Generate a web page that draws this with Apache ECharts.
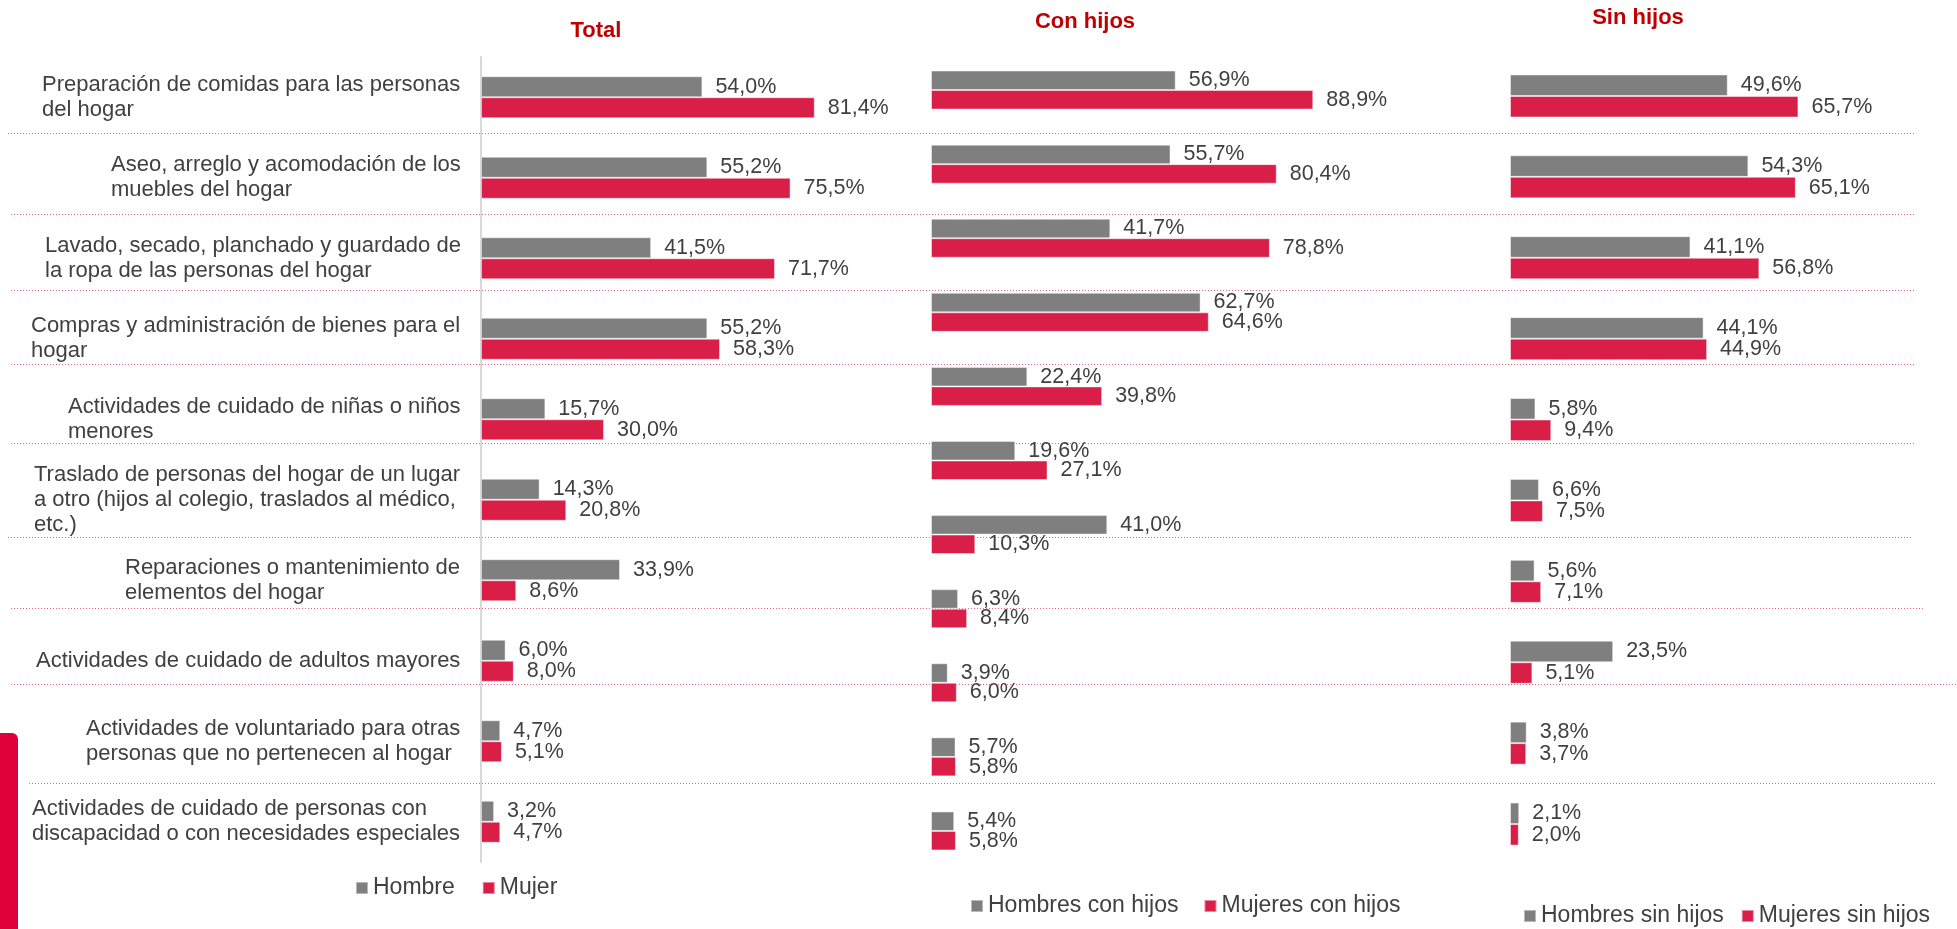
<!DOCTYPE html>
<html>
<head>
<meta charset="utf-8">
<script src="https://cdn.jsdelivr.net/npm/echarts@6/dist/echarts.min.js"></script>
<style>
  html, body { margin: 0; padding: 0; background: #ffffff; }
  #chart { width: 1957px; height: 929px; }
</style>
</head>
<body>
<div id="chart"></div>
<script>
// ---------- DATA ----------
const categories = [
  'Preparación de comidas para las personas\ndel hogar',
  'Aseo, arreglo y acomodación de los\nmuebles del hogar',
  'Lavado, secado, planchado y guardado de\nla ropa de las personas del hogar',
  'Compras y administración de bienes para el\nhogar',
  'Actividades de cuidado de niñas o niños\nmenores',
  'Traslado de personas del hogar de un lugar\na otro (hijos al colegio, traslados al médico,\netc.)',
  'Reparaciones o mantenimiento de\nelementos del hogar',
  'Actividades de cuidado de adultos mayores',
  'Actividades de voluntariado para otras\npersonas que no pertenecen al hogar',
  'Actividades de cuidado de personas con\ndiscapacidad o con necesidades especiales'
];
const totalHombre = [54.0, 55.2, 41.5, 55.2, 15.7, 14.3, 33.9, 6.0, 4.7, 3.2];
const totalMujer  = [81.4, 75.5, 71.7, 58.3, 30.0, 20.8, 8.6, 8.0, 5.1, 4.7];

const conHijosCategories = ['F1', 'F2', 'F3', 'F4', 'F5', 'F6', 'F7', 'F8', 'F9', 'F10', 'F11'];
const conHombre = [56.9, 55.7, 41.7, 62.7, 22.4, 19.6, 41.0, 6.3, 3.9, 5.7, 5.4];
const conMujer  = [88.9, 80.4, 78.8, 64.6, 39.8, 27.1, 10.3, 8.4, 6.0, 5.8, 5.8];

const sinHombre = [49.6, 54.3, 41.1, 44.1, 5.8, 6.6, 5.6, 23.5, 3.8, 2.1];
const sinMujer  = [65.7, 65.1, 56.8, 44.9, 9.4, 7.5, 7.1, 5.1, 3.7, 2.0];

const panelTitles = ['Total', 'Con hijos', 'Sin hijos'];
const legendNames = [
  ['Hombre', 'Mujer'],
  ['Hombres con hijos', 'Mujeres con hijos'],
  ['Hombres sin hijos', 'Mujeres sin hijos']
];

// ---------- STYLE ----------
const FONT = '"Liberation Sans", Arial, Helvetica, sans-serif';
const GREY = '#7f7f7f';
const RED = '#d91f48';
const TEXT = '#404040';
const TITLE = '#c00000';

// measure label lines to make left-aligned text blocks anchored at the right
const cv = document.createElement('canvas').getContext('2d');
cv.font = '22px ' + FONT;
const rich = {};
categories.forEach((c, i) => {
  const w = Math.max(...c.split('\n').map(l => cv.measureText(l).width));
  rich['r' + i] = { width: Math.ceil(w) + 1, align: 'left', fontSize: 22, lineHeight: 25, color: TEXT, fontFamily: FONT };
});

const fmt = p => p.value.toFixed(1).replace('.', ',') + '%';

function barSeries(name, data, axisIdx, color, bw) {
  return {
    type: 'bar', name: name, data: data,
    xAxisIndex: axisIdx, yAxisIndex: axisIdx,
    barWidth: bw, barGap: '0%',
    itemStyle: { color: color, borderColor: 'rgba(255,255,255,0.45)', borderWidth: 1 },
    label: { show: true, position: 'right', distance: 13, formatter: fmt,
             fontSize: 21.5, color: TEXT, fontFamily: FONT },
    emphasis: { disabled: true },
    animation: false
  };
}

const grids = [
  { left: 481, top: 57, width: 410, height: 805 },
  { left: 931, top: 53, width: 430, height: 815 },
  { left: 1510, top: 55.5, width: 439, height: 809 }
];

const separators = [
  [8, 133, 1915], [11, 214, 1915], [11, 290, 1915], [11, 364, 1915],
  [11, 443, 1915], [8, 537, 1911], [11, 608, 1924], [11, 684, 1957], [29, 783, 1935]
];

const option = {
  backgroundColor: '#ffffff',
  textStyle: { fontFamily: FONT },
  animation: false,
  title: [
    { text: panelTitles[0], left: 596, top: 19.5, textAlign: 'center', padding: 0,
      textStyle: { fontSize: 22, fontWeight: 'bold', color: TITLE, fontFamily: FONT } },
    { text: panelTitles[1], left: 1085, top: 11, textAlign: 'center', padding: 0,
      textStyle: { fontSize: 22, fontWeight: 'bold', color: TITLE, fontFamily: FONT } },
    { text: panelTitles[2], left: 1638, top: 7, textAlign: 'center', padding: 0,
      textStyle: { fontSize: 22, fontWeight: 'bold', color: TITLE, fontFamily: FONT } }
  ],
  legend: [
    { data: legendNames[0], left: 355, top: 876.5, padding: 0, itemGap: 27, itemWidth: 12, itemHeight: 12, icon: 'rect',
      textStyle: { fontSize: 23, color: TEXT, fontFamily: FONT }, selectedMode: false },
    { data: legendNames[1], left: 970, top: 894.5, padding: 0, itemGap: 25, itemWidth: 12, itemHeight: 12, icon: 'rect',
      textStyle: { fontSize: 23, color: TEXT, fontFamily: FONT }, selectedMode: false },
    { data: legendNames[2], left: 1523, top: 904.5, padding: 0, itemGap: 17, itemWidth: 12, itemHeight: 12, icon: 'rect',
      textStyle: { fontSize: 23, color: TEXT, fontFamily: FONT }, selectedMode: false }
  ],
  grid: grids,
  xAxis: [0, 1, 2].map(i => ({
    type: 'value', gridIndex: i, min: 0, max: 100, show: false
  })),
  yAxis: [
    { type: 'category', gridIndex: 0, data: categories, inverse: true,
      axisLine: { show: true, lineStyle: { color: '#d9d9d9', width: 2 } },
      axisTick: { show: false }, splitLine: { show: false },
      axisLabel: { margin: 19, formatter: (v, i) => v.split('\n').map(l => '{r' + i + '|' + l + '}').join('\n'), rich: rich } },
    { type: 'category', gridIndex: 1, data: conHijosCategories, inverse: true, show: false },
    { type: 'category', gridIndex: 2, data: categories, inverse: true, show: false }
  ],
  series: [
    barSeries(legendNames[0][0], totalHombre, 0, GREY, 21),
    barSeries(legendNames[0][1], totalMujer, 0, RED, 21),
    barSeries(legendNames[1][0], conHombre, 1, GREY, 19.5),
    barSeries(legendNames[1][1], conMujer, 1, RED, 19.5),
    barSeries(legendNames[2][0], sinHombre, 2, GREY, 21.5),
    barSeries(legendNames[2][1], sinMujer, 2, RED, 21.5)
  ],
  graphic: [
    ...separators.map(s => ({
      type: 'line', silent: true, z: -1,
      shape: { x1: s[0], y1: s[1] + 0.5, x2: s[2], y2: s[1] + 0.5 },
      style: { stroke: '#d8345a', lineWidth: 1, lineDash: [1, 2], opacity: 0.75 }
    })),
    { type: 'rect', silent: true,
      shape: { x: -6, y: 733, width: 24, height: 220, r: 6 },
      style: { fill: '#e0003a' } }
  ]
};

const chart = echarts.init(document.getElementById('chart'), null, { renderer: 'canvas' });
chart.setOption(option);
</script>
</body>
</html>
